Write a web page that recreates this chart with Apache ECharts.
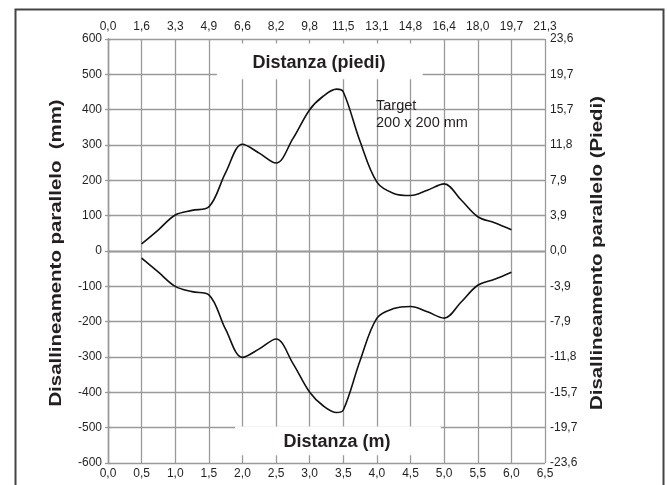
<!DOCTYPE html>
<html>
<head>
<meta charset="utf-8">
<script src="https://cdn.jsdelivr.net/npm/echarts@6/dist/echarts.min.js"></script>
<style>
html,body{margin:0;padding:0;background:#fff;}
#chart{width:667px;height:485px;}
</style>
</head>
<body>
<div id="chart"></div>
<script>
// Distance along the target path (m)
const xMeters = [0.5, 0.75, 1.0, 1.25, 1.5, 1.75, 2.0, 2.25, 2.5, 2.75, 3.0, 3.2, 3.4, 3.5, 3.75, 4.0, 4.25, 4.5, 4.75, 5.0, 5.25, 5.5, 5.75, 6.0];
// Upper envelope (mm)
const upperMm = [20, 60, 102, 115, 125, 222, 302, 277, 249, 318, 400, 438, 458, 450, 310, 195, 163, 157, 172, 190, 145, 97, 80, 60];
// Lower envelope (mm)
const lowerMm = [-20, -60, -100, -115, -124, -222, -301, -277, -249, -318, -400, -438, -457, -450, -310, -190, -163, -157, -172, -190, -145, -97, -80, -60];

// Tick labels
const feetLabels = ['0,0','1,6','3,3','4,9','6,6','8,2','9,8','11,5','13,1','14,8','16,4','18,0','19,7','21,3'];
const rightLabels = ['-23,6','-19,7','-15,7','-11,8','-7,9','-3,9','0,0','3,9','7,9','11,8','15,7','19,7','23,6'];

const FONT = "'Liberation Sans', Arial, Helvetica, sans-serif";
const GRID = '#9a9a9a';
const TXT = '#231f20';

const upperData = xMeters.map((x, i) => [x, upperMm[i]]);
const lowerData = xMeters.map((x, i) => [x, lowerMm[i]]);

const chart = echarts.init(document.getElementById('chart'), null, {renderer: 'canvas'});

const axisLineStyle = {show: true, lineStyle: {color: GRID, width: 1.3}};

chart.setOption({
  animation: false,
  backgroundColor: '#fff',
  textStyle: {fontFamily: FONT},
  grid: {left: 108, right: 122, top: 39, bottom: 22, containLabel: false, outerBoundsMode: 'none'},
  xAxis: [
    {
      type: 'value', position: 'bottom', min: 0, max: 6.5, interval: 0.5,
      axisLine: axisLineStyle,
      axisTick: {show: false},
      splitLine: {show: true, lineStyle: {color: GRID, width: 1.3}},
      axisLabel: {color: TXT, fontSize: 12, fontFamily: FONT, margin: 5,
        formatter: v => v.toFixed(1).replace('.', ',')}
    },
    {
      type: 'value', position: 'top', min: 0, max: 6.5, interval: 0.5,
      axisLine: axisLineStyle,
      axisTick: {show: false},
      splitLine: {show: false},
      axisLabel: {color: TXT, fontSize: 12, fontFamily: FONT, margin: 6,
        formatter: v => feetLabels[Math.round(v / 0.5)] || ''}
    }
  ],
  yAxis: [
    {
      type: 'value', position: 'left', min: -600, max: 600, interval: 100,
      axisLine: axisLineStyle,
      axisTick: {show: true, length: 3, lineStyle: {color: GRID, width: 1.3}},
      splitLine: {show: true, lineStyle: {color: GRID, width: 1.3}},
      axisLabel: {color: TXT, fontSize: 12, fontFamily: FONT, margin: 6}
    },
    {
      type: 'value', position: 'right', min: -600, max: 600, interval: 100,
      axisLine: axisLineStyle,
      axisTick: {show: true, length: 3, lineStyle: {color: GRID, width: 1.3}},
      splitLine: {show: false},
      axisLabel: {color: TXT, fontSize: 12, fontFamily: FONT, margin: 5,
        formatter: v => rightLabels[Math.round((v + 600) / 100)] || ''}
    }
  ],
  series: [
    {
      type: 'line', name: 'upper', xAxisIndex: 0, yAxisIndex: 0,
      data: upperData, smooth: 0.35, showSymbol: false, symbol: 'none',
      lineStyle: {color: '#111', width: 1.6},
      markArea: {
        silent: true,
        itemStyle: {color: '#ffffff', opacity: 1},
        data: [
          [{coord: [1.62, 486]}, {coord: [4.68, 587]}],
          [{coord: [1.89, -497]}, {coord: [4.95, -578]}]
        ]
      }
    },
    {
      type: 'line', name: 'lower', xAxisIndex: 0, yAxisIndex: 0,
      data: lowerData, smooth: 0.35, showSymbol: false, symbol: 'none',
      lineStyle: {color: '#111', width: 1.6}
    }
  ],
  graphic: [
    {
      type: 'rect', left: 13, top: 7, silent: true, z: 100,
      shape: {width: 648, height: 492},
      style: {fill: 'none', stroke: '#444', lineWidth: 2}
    },
    {
      type: 'text', x: 319, y: 63, z: 100,
      style: {text: 'Distanza (piedi)', fontSize: 18, fontWeight: 'bold', fill: TXT, fontFamily: FONT,
        align: 'center', verticalAlign: 'middle'}
    },
    {
      type: 'text', x: 337, y: 442, z: 100,
      style: {text: 'Distanza (m)', fontSize: 18, fontWeight: 'bold', fill: TXT, fontFamily: FONT,
        align: 'center', verticalAlign: 'middle'}
    },
    {
      type: 'text', x: 56, y: 253, z: 100, rotation: Math.PI / 2, scaleX: 1.2,
      style: {text: 'Disallineamento parallelo  (mm)', fontSize: 17, fontWeight: 'bold', fill: TXT, fontFamily: FONT,
        align: 'center', verticalAlign: 'middle'}
    },
    {
      type: 'text', x: 597, y: 253, z: 100, rotation: Math.PI / 2, scaleX: 1.2,
      style: {text: 'Disallineamento parallelo (Piedi)', fontSize: 17, fontWeight: 'bold', fill: TXT, fontFamily: FONT,
        align: 'center', verticalAlign: 'middle'}
    },
    {
      type: 'text', left: 376, top: 97, z: 100,
      style: {text: 'Target\n200 x 200 mm', fontSize: 14.5, lineHeight: 17, fill: TXT, fontFamily: FONT}
    }
  ]
});
</script>
</body>
</html>
